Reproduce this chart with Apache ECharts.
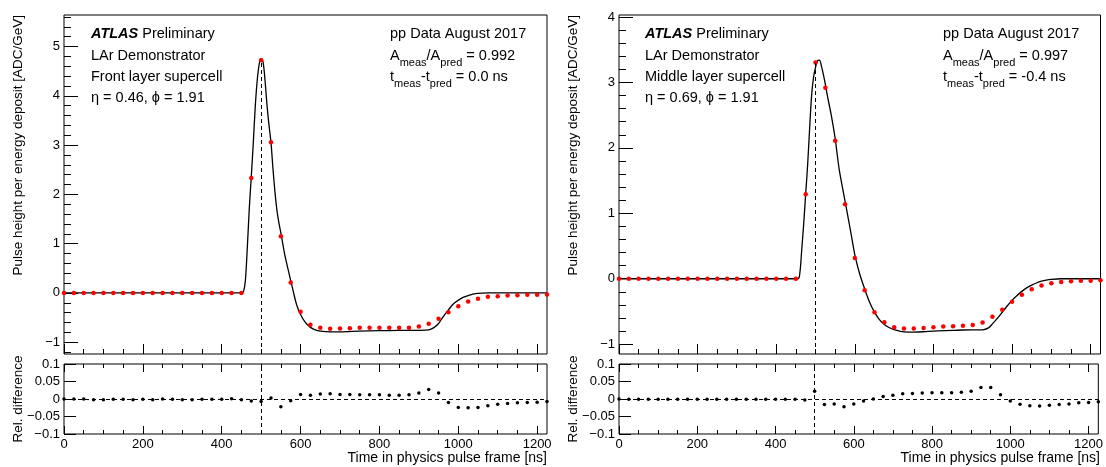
<!DOCTYPE html>
<html>
<head>
<meta charset="UTF-8"/>
<script src="https://cdn.jsdelivr.net/npm/echarts@6/dist/echarts.min.js"></script>
<style>
    body {margin: 0; background: #fff;}
    #main {width: 1106px; height: 467px;}
</style>
</head>
<body>
<div id="main"></div>
<script type="text/javascript">
    // sample times of the measured pulse (ns)
    var tData = [0, 25, 50, 75, 100, 125, 150, 175, 200, 225, 250, 275, 300, 325, 350, 375, 400, 425, 450,
        475, 500, 525, 550, 575, 600, 625, 650, 675, 700, 725, 750, 775, 800, 825, 850, 875, 900, 925, 950,
        975, 1000, 1025, 1050, 1075, 1100, 1125, 1150, 1175, 1200, 1225];

    // front layer (left)
    var dataLeft = [0, 0, 0, 0, 0, 0, 0, 0, 0, 0, 0, 0, 0, 0, 0, 0, 0, 0, 0,
        2.33, 4.72, 3.06, 1.15, 0.21, -0.385, -0.648, -0.709, -0.73, -0.723, -0.716, -0.709, -0.709, -0.709,
        -0.709, -0.709, -0.709, -0.682, -0.628, -0.527, -0.392, -0.27, -0.175, -0.121, -0.08, -0.067, -0.054,
        -0.047, -0.04, -0.04, -0.033];
    var ratioLeft = [0, 0, 0, -0.002, -0.002, -0.001, -0.001, -0.002, -0.001, -0.002, 0, -0.001, -0.002, -0.002,
        -0.001, -0.001, -0.001, 0.001, -0.002,
        -0.006, -0.007, 0.003, -0.022, -0.005, 0.013, 0.011, 0.014, 0.015, 0.013, 0.013, 0.012, 0.012, 0.012,
        0.011, 0.011, 0.012, 0.017, 0.027, 0.017, -0.01, -0.024, -0.025, -0.024, -0.019, -0.015, -0.013,
        -0.011, -0.01, -0.009, -0.007];
    var tCurveLeft = [0, 450, 455, 460, 465, 470, 475, 480, 485, 490, 495, 500, 505, 510, 515, 520, 525, 530, 535,
        540, 545, 550, 560, 570, 580, 590, 600, 612, 625, 637, 650, 675, 700, 750, 800, 850, 900, 925, 937, 950,
        962, 975, 988, 1000, 1012, 1025, 1037, 1050, 1075, 1100, 1225];
    var vCurveLeft = [0, 0, 0.02, 0.25, 0.93, 1.72, 2.36, 3.03, 3.77, 4.31, 4.64, 4.76, 4.68, 4.3, 3.8, 3.4, 3.05,
        2.52, 2.05, 1.68, 1.42, 1.22, 0.77, 0.42, 0.08, -0.24, -0.44, -0.6, -0.7, -0.75, -0.775, -0.79, -0.79,
        -0.775, -0.766, -0.762, -0.76, -0.75, -0.71, -0.62, -0.48, -0.345, -0.22, -0.15, -0.09, -0.055, -0.025,
        -0.008, 0, 0, 0];

    // middle layer (right)
    var dataRight = [0, 0, 0, 0, 0, 0, 0, 0, 0, 0, 0, 0, 0, 0, 0, 0, 0, 0, 0,
        1.29, 3.305, 2.92, 2.11, 1.137, 0.318, -0.176, -0.511, -0.664, -0.74, -0.762, -0.762, -0.751, -0.74,
        -0.731, -0.725, -0.72, -0.705, -0.67, -0.579, -0.472, -0.35, -0.243, -0.16, -0.105, -0.069, -0.049,
        -0.038, -0.029, -0.029, -0.023];
    var ratioRight = [0, -0.001, -0.001, -0.001, -0.001, -0.001, -0.001, -0.001, -0.001, -0.001, -0.001, -0.001,
        -0.001, -0.001, -0.001, -0.001, -0.001, -0.001, -0.001,
        -0.003, 0.022, -0.016, -0.014, -0.022, -0.014, -0.006, 0, 0.007, 0.011, 0.015, 0.016, 0.017, 0.018,
        0.018, 0.018, 0.019, 0.022, 0.033, 0.033, 0.012, -0.006, -0.015, -0.019, -0.02, -0.018, -0.016,
        -0.014, -0.011, -0.01, -0.008];
    var tCurveRight = [0, 455, 460, 465, 470, 475, 480, 485, 490, 495, 500, 505, 510, 515, 520, 525, 530, 540, 550,
        560, 575, 590, 600, 612, 625, 637, 650, 662, 675, 687, 700, 725, 750, 775, 800, 850, 875, 925, 940, 950,
        962, 975, 987, 1000, 1012, 1025, 1037, 1050, 1062, 1075, 1087, 1100, 1125, 1225];
    var vCurveRight = [0, 0, 0.08, 0.45, 0.85, 1.3, 1.75, 2.3, 2.8, 3.08, 3.23, 3.33, 3.34, 3.25, 3.12, 2.97, 2.8,
        2.5, 2.14, 1.68, 1.19, 0.7, 0.365, 0.08, -0.156, -0.35, -0.511, -0.62, -0.7, -0.745, -0.777, -0.812,
        -0.815, -0.81, -0.8, -0.79, -0.783, -0.78, -0.75, -0.69, -0.61, -0.512, -0.42, -0.33, -0.26, -0.193,
        -0.14, -0.097, -0.065, -0.038, -0.02, -0.009, 0, 0];

    // tick labels
    var xTicks = [0, 200, 400, 600, 800, 1000, 1200];
    var yTicksLeft = [-1, 0, 1, 2, 3, 4, 5];
    var yTicksRight = [-1, 0, 1, 2, 3, 4];
    var ratioTicks = [-0.1, -0.05, 0, 0.05, 0.1];

    var FONT = 'Liberation Sans, Arial, Helvetica, sans-serif';

    function zip(a, b) {
        return a.map(function (v, i) { return [v, b[i]]; });
    }
    function steps(a, b, step) {
        var out = [];
        for (var v = a; v <= b + 1e-9; v += step) out.push(+v.toFixed(4));
        return out;
    }
    function minus(v) {
        return String(v).replace('-', '\u2212');
    }

    var xMinor = steps(0, 1225, 50);

    function xAxis(grid, pos, ticks, len, labels) {
        return {
            type: 'value', gridIndex: grid, position: pos, min: 0, max: 1225,
            axisLine: {show: false, onZero: false}, splitLine: {show: false},
            axisTick: {show: true, inside: true, length: len, customValues: ticks, lineStyle: {color: '#000', width: 1}},
            axisLabel: labels ? {show: true, customValues: ticks, margin: 4, color: '#000', fontSize: 13, fontFamily: FONT,
                    formatter: function (v) { return String(v); }}
                : {show: false}
        };
    }
    function yAxis(grid, min, max, ticks, len, labels) {
        return {
            type: 'value', gridIndex: grid, position: 'left', min: min, max: max,
            axisLine: {show: false, onZero: false}, splitLine: {show: false},
            axisTick: {show: true, inside: true, length: len, customValues: ticks, lineStyle: {color: '#000', width: 1}},
            axisLabel: labels ? {show: true, customValues: ticks, margin: 4, color: '#000', fontSize: 13, fontFamily: FONT, formatter: minus}
                : {show: false}
        };
    }
    function frame(left, top, width, height) {
        return {left: left, top: top, width: width, height: height, show: true,
            borderColor: '#000', borderWidth: 1, backgroundColor: 'transparent'};
    }

    var dash = {color: '#000', width: 1, type: [4, 3]};

    function panelSeries(xi, yi, rxi, ryi, tc, vc, data, ratio, peak, ymin) {
        return [
            {
                type: 'line', xAxisIndex: xi, yAxisIndex: yi, data: zip(tc, vc),
                symbol: 'none', smooth: 0.3, lineStyle: {color: '#000', width: 1.3}, z: 2
            },
            {
                type: 'scatter', xAxisIndex: xi, yAxisIndex: yi, data: zip(tData, data),
                symbolSize: 4.5, itemStyle: {color: '#ff0000', opacity: 1}, z: 3,
                markLine: {
                    silent: true, symbol: ['none', 'none'], label: {show: false}, lineStyle: dash,
                    data: [[{coord: [500, ymin]}, {coord: [500, peak]}]]
                }
            },
            {
                type: 'scatter', xAxisIndex: rxi, yAxisIndex: ryi, data: zip(tData, ratio),
                symbolSize: 3.5, itemStyle: {color: '#000', opacity: 1}, z: 3,
                markLine: {
                    silent: true, symbol: ['none', 'none'], label: {show: false}, lineStyle: dash,
                    data: [{xAxis: 500}, {yAxis: 0}]
                }
            }
        ];
    }

    var base = {fontSize: 14.5, fontFamily: FONT, fill: '#000', verticalAlign: 'middle', lineHeight: 24};
    var sub = {fontSize: 11, fontFamily: FONT, lineHeight: 14, verticalAlign: 'bottom'};
    var atlas = {fontSize: 14.5, fontFamily: FONT, fontWeight: 'bold', fontStyle: 'italic'};

    function txt(x, y, text) {
        return {type: 'text', x: x, y: y, silent: true,
            style: Object.assign({text: text, rich: {s: sub, b: atlas}}, base)};
    }
    function vtitle(x, y, text, align) {
        return {type: 'text', x: x, y: y, rotation: Math.PI / 2, silent: true,
            style: {text: text, fontSize: 13.5, fontFamily: FONT, fill: '#000', align: align, verticalAlign: 'middle'}};
    }
    function htitle(x, y, text) {
        return {type: 'text', x: x, y: y, silent: true,
            style: {text: text, fontSize: 14, fontFamily: FONT, fill: '#000', align: 'right', verticalAlign: 'middle'}};
    }

    var myChart = echarts.init(document.getElementById('main'));
    var option = {
        animation: false,
        backgroundColor: '#fff',
        grid: [
            frame(64, 15, 483, 339),
            frame(64, 364, 483, 70),
            frame(619, 15, 481.5, 339),
            frame(619, 364, 481.5, 70)
        ],
        xAxis: [
            xAxis(0, 'bottom', xTicks, 10, false),
            xAxis(0, 'bottom', xMinor, 5, false),
            xAxis(1, 'bottom', xTicks, 8, true),
            xAxis(1, 'bottom', xMinor, 4, false),
            xAxis(1, 'top', xTicks, 8, false),
            xAxis(1, 'top', xMinor, 4, false),
            xAxis(2, 'bottom', xTicks, 10, false),
            xAxis(2, 'bottom', xMinor, 5, false),
            xAxis(3, 'bottom', xTicks, 8, true),
            xAxis(3, 'bottom', xMinor, 4, false),
            xAxis(3, 'top', xTicks, 8, false),
            xAxis(3, 'top', xMinor, 4, false)
        ],
        yAxis: [
            yAxis(0, -1.24, 5.64, yTicksLeft, 14, true),
            yAxis(0, -1.24, 5.64, steps(-1.2, 5.6, 0.2), 7, false),
            yAxis(1, -0.1, 0.1, ratioTicks, 12, true),
            yAxis(2, -1.15, 4.03, yTicksRight, 14, true),
            yAxis(2, -1.15, 4.03, steps(-1.0, 4.0, 0.2), 7, false),
            yAxis(3, -0.1, 0.1, ratioTicks, 12, true)
        ],
        graphic: [
            txt(91, 34, '{b|ATLAS} Preliminary'),
            txt(91, 56, 'LAr Demonstrator'),
            txt(91, 77, 'Front layer supercell'),
            txt(91, 98, '\u03b7 = 0.46, \u03d5 = 1.91'),
            txt(390, 34, 'pp Data August 2017'),
            txt(390, 56, 'A{s|meas}/A{s|pred} = 0.992'),
            txt(390, 77, 't{s|meas}-t{s|pred} = 0.0 ns'),
            txt(645, 34, '{b|ATLAS} Preliminary'),
            txt(645, 56, 'LAr Demonstrator'),
            txt(645, 77, 'Middle layer supercell'),
            txt(645, 98, '\u03b7 = 0.69, \u03d5 = 1.91'),
            txt(943, 34, 'pp Data August 2017'),
            txt(943, 56, 'A{s|meas}/A{s|pred} = 0.997'),
            txt(943, 77, 't{s|meas}-t{s|pred} = -0.4 ns'),
            vtitle(18, 15, 'Pulse height per energy deposit [ADC/GeV]', 'right'),
            vtitle(573, 15, 'Pulse height per energy deposit [ADC/GeV]', 'right'),
            vtitle(18, 399, 'Rel. difference', 'center'),
            vtitle(573, 399, 'Rel. difference', 'center'),
            htitle(547, 458, 'Time in physics pulse frame [ns]'),
            htitle(1100, 458, 'Time in physics pulse frame [ns]')
        ],
        series: [].concat(
            panelSeries(0, 0, 2, 2, tCurveLeft, vCurveLeft, dataLeft, ratioLeft, 4.72, -1.24),
            panelSeries(6, 3, 8, 5, tCurveRight, vCurveRight, dataRight, ratioRight, 3.305, -1.15)
        )
    };
    myChart.setOption(option);
</script>
</body>
</html>
